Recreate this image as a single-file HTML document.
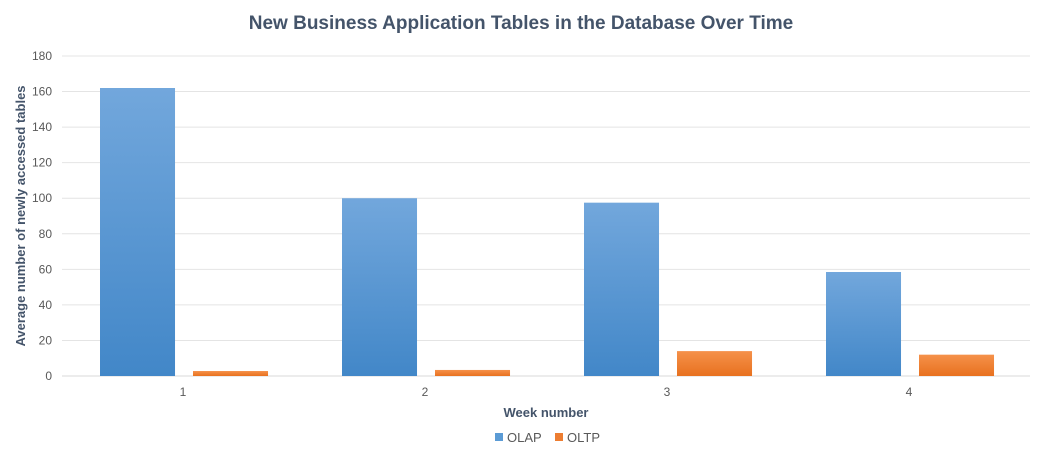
<!DOCTYPE html>
<html><head><meta charset="utf-8"><style>
body{margin:0;background:#fff;font-family:"Liberation Sans",sans-serif;}
svg text{font-family:"Liberation Sans",sans-serif;}
</style></head><body>
<svg id="chart" width="1043" height="453" viewBox="0 0 1043 453" xmlns="http://www.w3.org/2000/svg">
<defs>
<linearGradient id="gBlue" x1="0" y1="0" x2="0" y2="1"><stop offset="0" stop-color="#72a7dc"/><stop offset="1" stop-color="#4287c8"/></linearGradient>
<linearGradient id="gOrange" x1="0" y1="0" x2="0" y2="1"><stop offset="0" stop-color="#f5914a"/><stop offset="1" stop-color="#e8711f"/></linearGradient>
</defs>
<text x="521" y="29" text-anchor="middle" font-size="19" font-weight="bold" fill="#44546a">New Business Application Tables in the Database Over Time</text>
<g id="grid"></g><g id="bars"></g><g id="labels"></g>
<text x="546" y="417" text-anchor="middle" font-size="13" font-weight="bold" fill="#44546a">Week number</text>
<text transform="translate(25,216) rotate(-90)" text-anchor="middle" font-size="13" font-weight="bold" fill="#44546a">Average number of newly accessed tables</text>
<g>
<rect x="495" y="433" width="8" height="8" fill="#5b9bd5"/>
<text x="507" y="442" font-size="13" fill="#595959">OLAP</text>
<rect x="555" y="433" width="8" height="8" fill="#ed7d31"/>
<text x="567" y="442" font-size="13" fill="#595959">OLTP</text>
</g>
</svg>
<script>
const categories=["1","2","3","4"];
const olap=[162,100,97.5,58.5];
const oltp=[2.8,3.4,14,12];
const yTicks=[0,20,40,60,80,100,120,140,160,180];
const NS="http://www.w3.org/2000/svg";
const x0=62,x1=1030,y0=376,yTop=56,yMax=180;
const cw=(x1-x0)/categories.length;
function y(v){return y0-(v/yMax)*(y0-yTop);}
function mk(t,a,p){const e=document.createElementNS(NS,t);for(const k in a)e.setAttribute(k,a[k]);p.appendChild(e);return e;}
const grid=document.getElementById('grid'),bars=document.getElementById('bars'),labels=document.getElementById('labels');
yTicks.forEach(v=>{
 const l=mk('line',{x1:x0,x2:x1,y1:y(v),y2:y(v),stroke:v===0?'#d9d9d9':'#e4e4e4','stroke-width':1},grid);
 
 
 const t=mk('text',{x:52,y:y(v)+4,'text-anchor':'end','font-size':12,fill:'#595959'},labels);
 t.textContent=v;
 
 
});
categories.forEach((c,i)=>{
 const cx=x0+cw*i+cw/2;
 const bw=cw*0.31;
 const a=mk('rect',{x:cx-83,y:y(olap[i]),width:bw,height:y0-y(olap[i]),fill:'url(#gBlue)'},bars);
 
 
 const b=mk('rect',{x:cx+10,y:y(oltp[i]),width:bw,height:y0-y(oltp[i]),fill:'url(#gOrange)'},bars);
 
 
 const t=mk('text',{x:cx,y:396,'text-anchor':'middle','font-size':12,fill:'#595959'},labels);
 t.textContent=c;
 
 
});
</script>
</body></html>
